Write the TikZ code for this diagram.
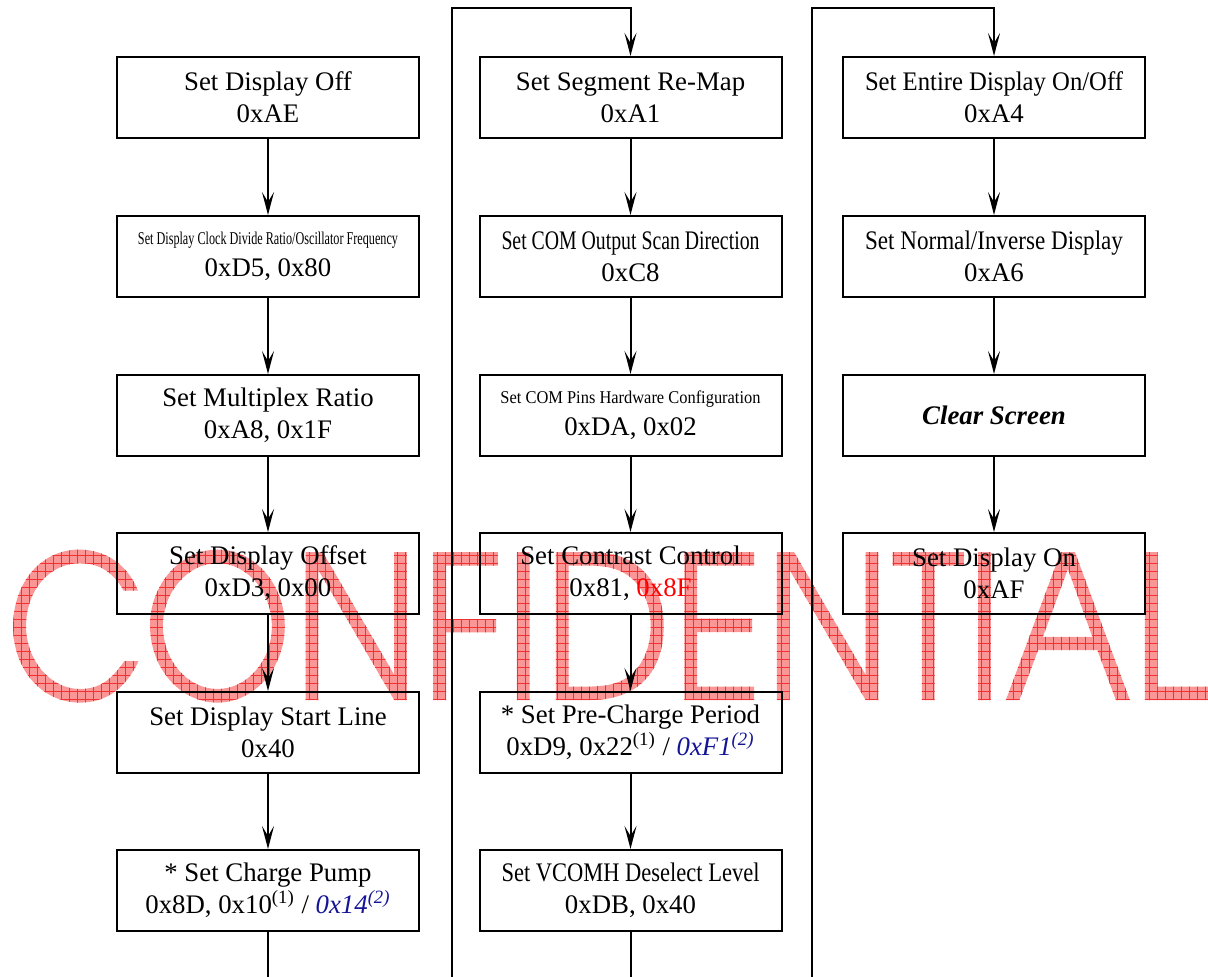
\documentclass[tikz,border=0pt]{standalone}
\usepackage{fontspec}
\setmainfont{Liberation Serif}
\newfontfamily\wmfont[FakeStretch=0.863]{TeX Gyre Adventor}
\usepackage{graphicx}
\usetikzlibrary{arrows.meta}
\definecolor{hexblue}{RGB}{20,20,150}
\definecolor{wmpink}{RGB}{250,150,150}
\definecolor{wmline}{RGB}{240,50,50}
\newcommand{\fitw}[1]{\resizebox{129pt}{\height}{#1}}
\newcommand{\tinyfit}[1]{\resizebox{130pt}{\height}{\fontsize{9}{11}\selectfont #1}}
\newcommand{\bluehex}[1]{\textcolor{hexblue}{\textit{#1}}}
\makeatletter
\newcommand{\wmhatch}[1]{%
  {\wmfont\fontsize{100}{100}\selectfont
   \pgfsys@beginscope\pgfsys@invoke{7 Tr}%
   \rlap{#1}%
   \rlap{\color{wmpink}\rule[-4pt]{640pt}{84pt}}%
   \rlap{\color{wmline}\hbox to 640pt{\leaders\hbox to 4pt{\hss\vrule width 0.4pt height 80pt depth 4pt}\hfill}}%
   \rlap{\color{wmline}\raisebox{-4pt}{\vbox to 84pt{\leaders\vbox to 4pt{\vss\hrule width 640pt height 0.4pt}\vfill}}}%
   \pgfsys@endscope
   \phantom{#1}}}
\makeatother
\begin{document}
\begin{tikzpicture}[x=0.5pt,y=-0.5pt,
  cmdbox/.style={draw,line width=1pt,minimum width=151pt,minimum height=40.5pt,
    align=center,inner sep=0pt,font=\fontsize{13.4}{16}\selectfont},
  flow/.style={line width=1pt,-{Stealth[length=11.5pt,width=6pt,inset=5pt]}},
  link/.style={line width=1pt},
  wmark/.style={anchor=base,inner sep=0pt}]
\useasboundingbox (0,0) rectangle (1208,977);
% watermark
\node[wmark] (wm) at (608.5,700) {\wmhatch{CONFIDENTIAL}};
% column 1
\node[cmdbox] (a1) at (268,97.5) {Set Display Off\\0xAE};
\node[cmdbox] (a2) at (268,256.5) {\tinyfit{Set Display Clock Divide Ratio/Oscillator Frequency}\\0xD5, 0x80};
\node[cmdbox] (a3) at (268,415.5) {Set Multiplex Ratio\\0xA8, 0x1F};
\node[cmdbox] (a4) at (268,573.5) {Set Display Offset\\0xD3, 0x00};
\node[cmdbox] (a5) at (268,732.5) {Set Display Start Line\\0x40};
\node[cmdbox] (a6) at (268,890.5) {* Set Charge Pump\\0x8D, 0x10\textsuperscript{(1)} / \bluehex{0x14\textsuperscript{(2)}}};
% column 2
\node[cmdbox] (b1) at (630.5,97.5) {Set Segment Re-Map\\0xA1};
\node[cmdbox] (b2) at (630.5,256.5) {\fitw{Set COM Output Scan Direction}\\0xC8};
\node[cmdbox] (b3) at (630.5,415.5) {\tinyfit{Set COM Pins Hardware Configuration}\\0xDA, 0x02};
\node[cmdbox] (b4) at (630.5,573.5) {Set Contrast Control\\0x81, \textcolor{red}{0x8F}};
\node[cmdbox] (b5) at (630.5,732.5) {* Set Pre-Charge Period\\0xD9, 0x22\textsuperscript{(1)} / \bluehex{0xF1\textsuperscript{(2)}}};
\node[cmdbox] (b6) at (630.5,890.5) {\fitw{Set VCOMH Deselect Level}\\0xDB, 0x40};
% column 3
\node[cmdbox] (c1) at (994,97.5) {\fitw{Set Entire Display On/Off}\\0xA4};
\node[cmdbox] (c2) at (994,256.5) {\fitw{Set Normal/Inverse Display}\\0xA6};
\node[cmdbox] (c3) at (994,415.5) {\textbf{\textit{Clear Screen}}};
\node[cmdbox] (c4) at (994,573.5) {Set Display On\\0xAF};
% connectors within columns
\foreach \p/\q in {a1/a2,a2/a3,a3/a4,a4/a5,a5/a6,b1/b2,b2/b3,b3/b4,b4/b5,b5/b6,c1/c2,c2/c3,c3/c4}
  \draw[flow] (\p.south) -- (\q.north);
% loop connectors
\coordinate (aend) at (268,977);
\coordinate (bend) at (630.5,977);
\coordinate (l1b) at (452,977);
\coordinate (l1t) at (452,8);
\coordinate (l2b) at (812,977);
\coordinate (l2t) at (812,8);
\draw[link] (a6.south) -- (aend);
\draw[link] (b6.south) -- (bend);
\draw[flow] (l1b) -- (l1t) -| (b1.north);
\draw[flow] (l2b) -- (l2t) -| (c1.north);
\end{tikzpicture}
\end{document}
